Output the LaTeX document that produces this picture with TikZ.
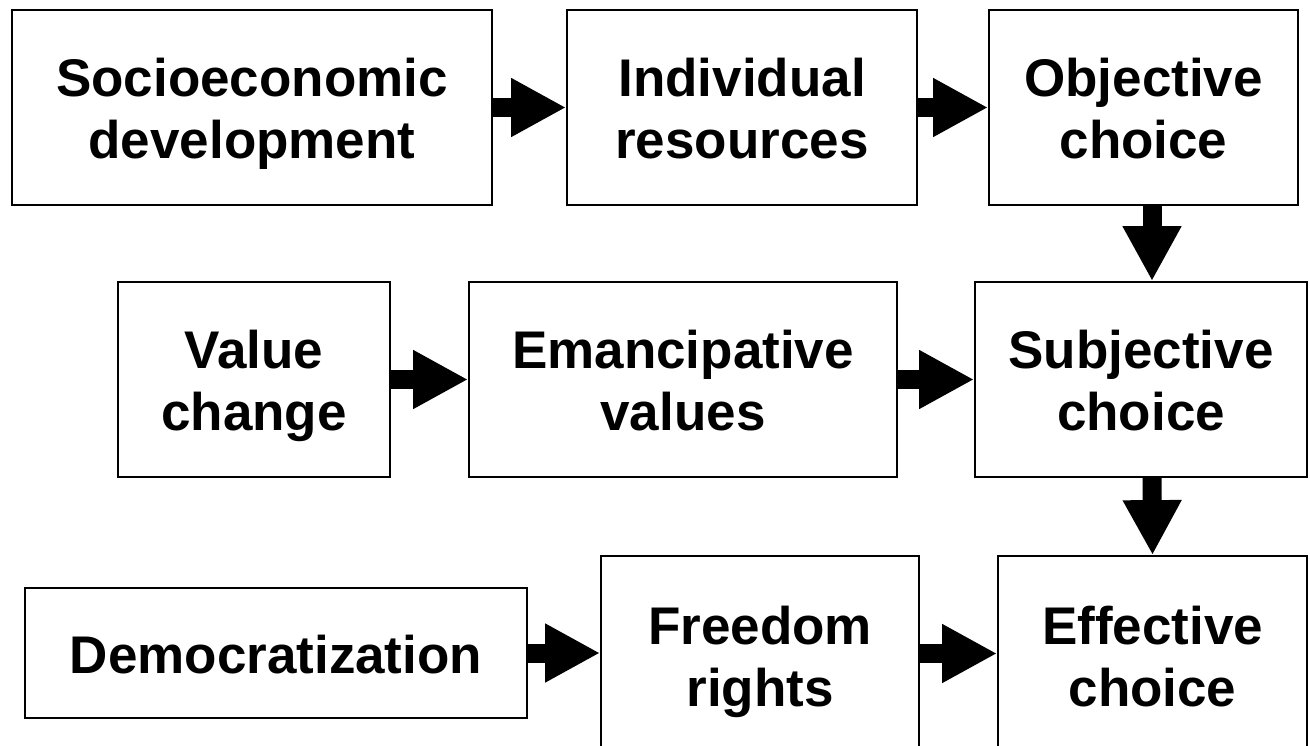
\documentclass[tikz,border=0pt]{standalone}
\usepackage{fontspec}
\setmainfont{Liberation Sans}
\usetikzlibrary{arrows.meta,calc}
\tikzset{
  box/.style={draw=black, line width=1.8pt, fill=white, inner sep=0pt},
  txt/.style={inner sep=0pt, anchor=base, font=\fontsize{53}{62}\selectfont\bfseries},
  barrow/.style={line width=19pt, -{Triangle[width=55pt,length=55pt]}}
}
\begin{document}
\begin{tikzpicture}[x=1pt,y=-1pt]
\clip (0,0) rectangle (1310,745);
\fill[white] (0,0) rectangle (1310,745);
% boxes
\node[box, minimum width=480pt, minimum height=195pt] (soc) at (252,107.5) {};
\node[box, minimum width=350pt, minimum height=195pt] (ind) at (742,107.5) {};
\node[box, minimum width=309pt, minimum height=195pt] (obj) at (1143.5,107.5) {};
\node[box, minimum width=272pt, minimum height=195pt] (val) at (254,379.5) {};
\node[box, minimum width=428pt, minimum height=195pt] (ema) at (683,379.5) {};
\node[box, minimum width=332pt, minimum height=195pt] (sub) at (1141,379.5) {};
\node[box, minimum width=502pt, minimum height=130pt] (dem) at (276,653) {};
\node[box, minimum width=318pt, minimum height=195pt] (fre) at (760,653.5) {};
\node[box, minimum width=309pt, minimum height=195pt] (eff) at (1152.5,653.5) {};
% texts
\node[txt] (soc1) at ($(soc.center)+(0,-11)$) {Socioeconomic};
\node[txt] (soc2) at ($(soc.center)+(0,51)$) {development};
\node[txt] (ind1) at ($(ind.center)+(0,-11)$) {Individual};
\node[txt] (ind2) at ($(ind.center)+(0,51)$) {resources};
\node[txt] (obj1) at ($(obj.center)+(0,-11)$) {Objective};
\node[txt] (obj2) at ($(obj.center)+(0,51)$) {choice};
\node[txt] (val1) at ($(val.center)+(0,-11)$) {Value};
\node[txt] (val2) at ($(val.center)+(0,51)$) {change};
\node[txt] (ema1) at ($(ema.center)+(0,-11)$) {Emancipative};
\node[txt] (ema2) at ($(ema.center)+(0,51)$) {values};
\node[txt] (sub1) at ($(sub.center)+(0,-11)$) {Subjective};
\node[txt] (sub2) at ($(sub.center)+(0,51)$) {choice};
\node[txt] (dem1) at ($(dem.center)+(0,20)$) {Democratization};
\node[txt] (fre1) at ($(fre.center)+(0,-9)$) {Freedom};
\node[txt] (fre2) at ($(fre.center)+(0,53)$) {rights};
\node[txt] (eff1) at ($(eff.center)+(0,-9)$) {Effective};
\node[txt] (eff2) at ($(eff.center)+(0,53)$) {choice};
% arrows
\draw[barrow] (soc.east) -- (ind.west);
\draw[barrow] (ind.east) -- (obj.west);
\draw[barrow] ([xshift=8.5pt]obj.south) -- ([xshift=8.5pt]obj.south |- sub.north);
\draw[barrow] (val.east) -- (ema.west);
\draw[barrow] (ema.east) -- (sub.west);
\draw[barrow] ([xshift=11pt]sub.south) -- (eff.north);
\draw[barrow] (dem.east) -- (dem.east -| fre.west);
\draw[barrow] (fre.east) -- (eff.west);
\end{tikzpicture}
\end{document}
